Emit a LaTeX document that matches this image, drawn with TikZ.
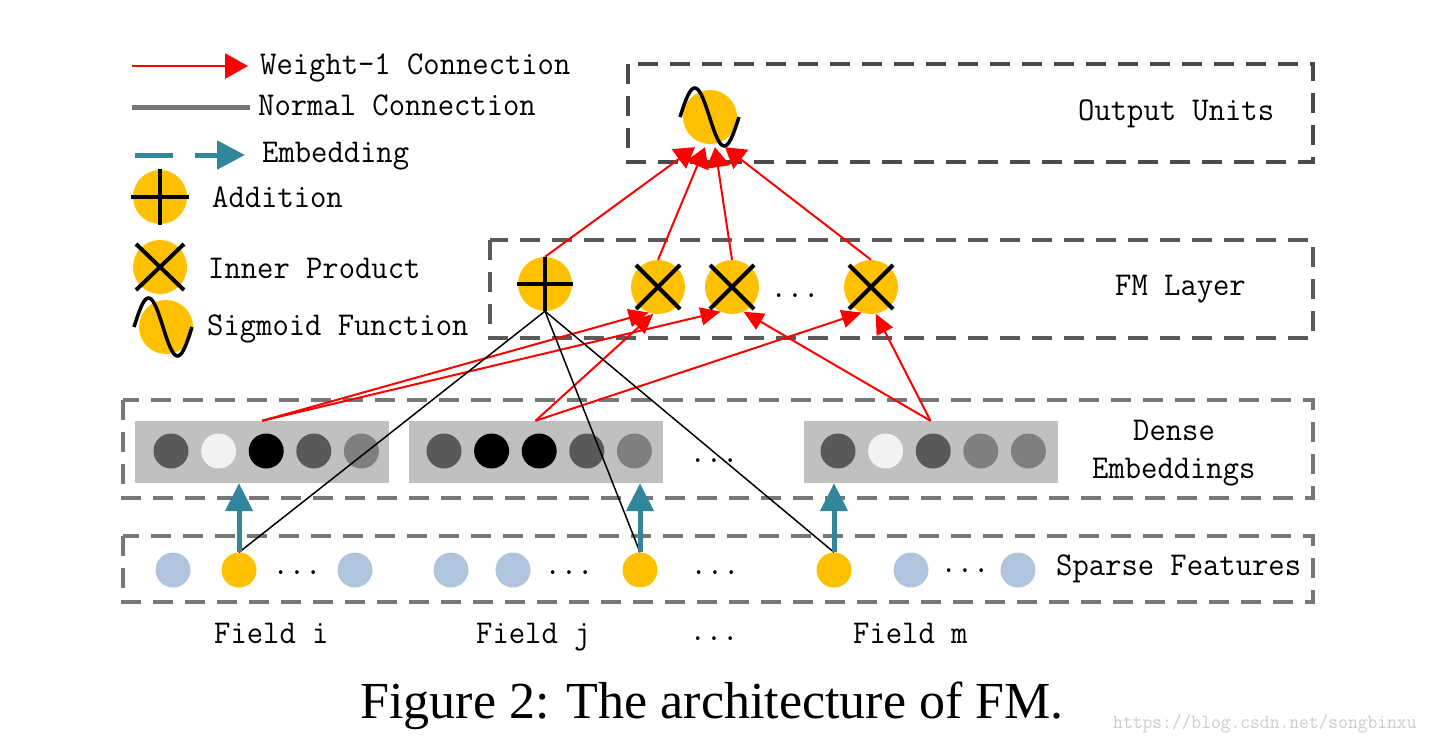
\documentclass[tikz,border=0pt]{standalone}
\usepackage{fontspec}
\setmainfont{Liberation Serif}
\usetikzlibrary{arrows.meta}
\definecolor{yel}{HTML}{FFC000}
\definecolor{sblue}{HTML}{B0C4DE}
\definecolor{tealc}{HTML}{31869B}
\definecolor{boxdark}{HTML}{4A4A4A}
\definecolor{boxmid}{HTML}{5A5A5A}
\definecolor{boxgray}{HTML}{777777}
\definecolor{embg}{HTML}{C0C0C0}
\definecolor{dA}{HTML}{595959}
\definecolor{dB}{HTML}{F2F2F2}
\definecolor{dC}{HTML}{7F7F7F}
\newcommand{\mtx}[1]{\scalebox{1}[1.05]{\ttfamily #1}}
\begin{document}
\begin{tikzpicture}[x=1pt,y=-1pt,
  lab/.style={font=\fontsize{31.7}{34}\selectfont, inner sep=0pt, anchor=base west},
  dashbox/.style={line width=4pt, dash pattern=on 20pt off 12pt},
  opnode/.style={circle, fill=yel, minimum size=54pt, inner sep=0pt},
  dotnode/.style={circle, minimum size=35pt, inner sep=0pt},
  embrect/.style={rectangle, fill=embg, minimum width=254pt, minimum height=62pt, inner sep=0pt},
  wone/.style={red, line width=2pt, -{Triangle[length=20pt,width=18pt]}},
  wonetop/.style={red, line width=2pt, -{Triangle[length=20pt,width=24pt]}},
  normc/.style={black, line width=1.5pt},
  embarrow/.style={tealc, line width=5pt, -{Triangle[length=28pt,width=27pt]}},
  glyph/.style={line width=4pt, black},
  sinecurve/.style={line width=3.5pt, black},
]
\useasboundingbox (0,0) rectangle (1434,744);

% ---------- dashed layer boxes ----------
\draw[dashbox, boxdark] (628,64) rectangle (1313,162);
\draw[dashbox, boxmid] (490,240) rectangle (1313,338);
\draw[dashbox, boxgray] (123,400) rectangle (1313,498);
\draw[dashbox, boxgray] (123,536) rectangle (1313,602);

% ---------- legend ----------
\coordinate (lw1) at (132,66); \coordinate (lw2) at (248,66);
\draw[red, line width=2.5pt, -{Triangle[length=23pt,width=25pt]}] (lw1) -- (lw2);
\node[lab] (tw) at (260,74) {\mtx{Weight-1 Connection}};
\coordinate (ln1) at (132,107); \coordinate (ln2) at (250,107);
\draw[boxgray, line width=5pt] (ln1) -- (ln2);
\node[lab] (tn) at (258,115) {\mtx{Normal Connection}};
\coordinate (le1) at (135,155); \coordinate (le2) at (245,155);
\draw[tealc, line width=5pt, dash pattern=on 38pt off 22pt, -{Triangle[length=28pt,width=28pt]}] (le1) -- (le2);
\node[lab] (te) at (262,162) {\mtx{Embedding}};

\node[opnode] (ladd) at (160,197) {};
\draw[glyph] ([xshift=-29pt]ladd.center) -- ([xshift=29pt]ladd.center);
\draw[glyph] ([yshift=28pt]ladd.center) -- ([yshift=-28pt]ladd.center);
\node[lab] (ta) at (212,207) {\mtx{Addition}};

\node[opnode] (lip) at (160,267) {};
\draw[glyph] ([shift={(-24,-23)}]lip.center) -- ([shift={(24,23)}]lip.center);
\draw[glyph] ([shift={(24,-23)}]lip.center) -- ([shift={(-24,23)}]lip.center);
\node[lab] (ti) at (208,278) {\mtx{Inner Product}};

\node[opnode] (lsg) at (166,327) {};
\draw[sinecurve, shift={(lsg.center)}] plot[domain=0:1, samples=41, smooth] ({-32+58*\x},{-29*sin(360*\x)});
\node[lab] (ts) at (207,335) {\mtx{Sigmoid Function}};

% ---------- output units ----------
\node[opnode] (out) at (710,117) {};
\draw[sinecurve, shift={(out.center)}] plot[domain=0:1, samples=41, smooth] ({-30+59*\x},{-29*sin(360*\x)});
\node[lab] (tout) at (1078,120) {\mtx{Output Units}};

% ---------- FM layer ----------
\node[opnode] (add) at (545,284) {};
\node[opnode] (x1) at (658,287) {};
\node[opnode] (x2) at (732,287) {};
\node[opnode] (x3) at (871,287) {};
\node[lab, anchor=base] (fmdots) at (795,297) {\mtx{...}};
\node[lab] (tfm) at (1115,295) {\mtx{FM Layer}};

% ---------- dense embeddings ----------
\node[embrect] (r1) at (262,452) {};
\node[embrect] (r2) at (535.5,452) {};
\node[embrect] (r3) at (930.5,452) {};
\foreach \c [count=\i] in {dA,dB,black,dA,dC}
  \node[dotnode, fill=\c] (ra\i) at ({171+47.6*(\i-1)},451) {};
\foreach \c [count=\i] in {dA,black,black,dA,dC}
  \node[dotnode, fill=\c] (rb\i) at ({444+47.6*(\i-1)},451) {};
\foreach \c [count=\i] in {dA,dB,dA,dC,dC}
  \node[dotnode, fill=\c] (rc\i) at ({838+47.6*(\i-1)},451) {};
\node[lab, anchor=base] (ddots) at (714,462) {\mtx{...}};
\node[lab] (tde1) at (1133,440) {\mtx{Dense}};
\node[lab] (tde2) at (1092,478) {\mtx{Embeddings}};

% ---------- sparse features ----------
\node[dotnode, fill=sblue] (sa1) at (173,570) {};
\node[dotnode, fill=yel] (si) at (239,570) {};
\node[dotnode, fill=sblue] (sa2) at (355,570) {};
\node[dotnode, fill=sblue] (sb1) at (451,570) {};
\node[dotnode, fill=sblue] (sb2) at (513,570) {};
\node[dotnode, fill=yel] (sj) at (640,570) {};
\node[dotnode, fill=yel] (sm) at (834,570) {};
\node[dotnode, fill=sblue] (sc1) at (911,570) {};
\node[dotnode, fill=sblue] (sc2) at (1018,570) {};
\node[lab, anchor=base] (sdots1) at (297,574) {\mtx{...}};
\node[lab, anchor=base] (sdots2) at (569,574) {\mtx{...}};
\node[lab, anchor=base] (sdots3) at (715,574) {\mtx{...}};
\node[lab, anchor=base] (sdots4) at (965,572) {\mtx{...}};
\node[lab] (tsp) at (1056,575) {\mtx{Sparse Features}};

% ---------- field labels ----------
\node[lab] (fi) at (214,643) {\mtx{Field i}};
\node[lab] (fj) at (476,643) {\mtx{Field j}};
\node[lab, anchor=base] (fdots) at (714,640) {\mtx{...}};
\node[lab] (fm) at (853,643) {\mtx{Field m}};

% ---------- connections ----------
\coordinate (o1) at ([xshift=-15pt,yshift=-3pt]out.south);
\coordinate (o2) at ([xshift=-5pt,yshift=-3pt]out.south);
\coordinate (o3) at ([xshift=5pt,yshift=-3pt]out.south);
\coordinate (o4) at ([xshift=15pt,yshift=-3pt]out.south);
\draw[wonetop] (add.north) -- (o1);
\draw[wonetop] (x1.north) -- (o2);
\draw[wonetop] (x2.north) -- (o3);
\draw[wonetop] (x3.north) -- (o4);

\draw[wone] (r1.north) -- (x1.-110);
\draw[wone] (r1.north) -- (x2.-115);
\draw[wone] (r2.north) -- (x1.-100);
\draw[wone] (r2.north) -- (x3.-110);
\draw[wone] (r3.north) -- (x2.-65);
\draw[wone] (r3.north) -- (x3.-80);

\draw[normc] (add.south) -- (si.north);
\draw[normc] (add.south) -- (sj.north);
\draw[normc] (add.south) -- (sm.north);

\draw[embarrow] (si.north) -- (si.north |- r1.south);
\draw[embarrow] (sj.north) -- (sj.north |- r2.south);
\draw[embarrow] (sm.north) -- (sm.north |- r3.south);

% ---------- operator glyphs ----------
\draw[glyph] ([xshift=-28pt]add.center) -- ([xshift=28pt]add.center);
\draw[glyph] ([yshift=27pt]add.center) -- ([yshift=-27pt]add.center);
\foreach \n in {x1,x2,x3}{
  \draw[glyph] ([shift={(-22,-22)}]\n.center) -- ([shift={(22,22)}]\n.center);
  \draw[glyph] ([shift={(22,-22)}]\n.center) -- ([shift={(-22,22)}]\n.center);
}

% ---------- caption and watermark ----------
\node[font=\fontsize{52}{60}\selectfont, anchor=base, inner sep=0pt] (cap) at (712,718) {Figure 2: The architecture of FM.};
\node[lab, font=\fontsize{19}{22}\selectfont, text=black!20] (wm) at (1113,728) {\mtx{https://blog.csdn.net/songbinxu}};
\end{tikzpicture}
\end{document}
